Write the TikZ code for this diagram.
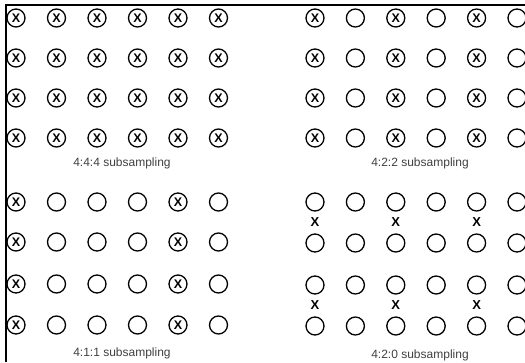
\documentclass[tikz,border=0pt]{standalone}
\usepackage{fontspec}
\setmainfont{Liberation Sans}
\usepackage{tikz}

\begin{document}
\begin{tikzpicture}[x=1pt,y=-1pt,
  sample/.style={circle,draw=black,line width=1.3pt,minimum size=18pt,inner sep=0pt,font=\fontsize{12.5}{12.5}\selectfont\bfseries},
  chroma/.style={inner sep=0pt,font=\fontsize{13}{13}\selectfont\bfseries},
  caption/.style={text=black!75,font=\fontsize{12}{14}\selectfont}]
\useasboundingbox (0,0) rectangle (525,362);
% frame
\coordinate (corner) at (6,5);
\draw[line width=1.5pt] (corner |- 0,362) -- (corner) -- (525,5);
% 4:4:4
\foreach \r/\y in {1/18,2/58,3/98,4/138}
  \foreach \c in {1,...,6}
    \node[sample] (full\r\c) at ({16+40.5*(\c-1)},\y) {X};
\node[caption] (cap444) at (122,163) {4:4:4 subsampling};
% 4:2:2
\foreach \r/\y in {1/18,2/58,3/98,4/138}
  \foreach \c/\t in {1/X,2/,3/X,4/,5/X,6/}
    \node[sample] (half\r\c) at ({315+40.4*(\c-1)},\y) {\t};
\node[caption] (cap422) at (420,163) {4:2:2 subsampling};
% 4:1:1
\foreach \r/\y in {1/202,2/242,3/284,4/325}
  \foreach \c/\t in {1/X,2/,3/,4/,5/X,6/}
    \node[sample] (quart\r\c) at ({16+40.5*(\c-1)},\y) {\t};
\node[caption] (cap411) at (122,353) {4:1:1 subsampling};
% 4:2:0
\foreach \r/\y in {1/202,2/243,3/285,4/326}
  \foreach \c in {1,...,6}
    \node[sample] (mid\r\c) at ({315+40.4*(\c-1)},\y) {};
\foreach \r/\y in {1/222,2/305}
  \foreach \c in {1,3,5}
    \node[chroma] (cx\r\c) at ({315+40.4*(\c-1)},\y) {X};
\node[caption] (cap420) at (420,355) {4:2:0 subsampling};
\end{tikzpicture}
\end{document}
